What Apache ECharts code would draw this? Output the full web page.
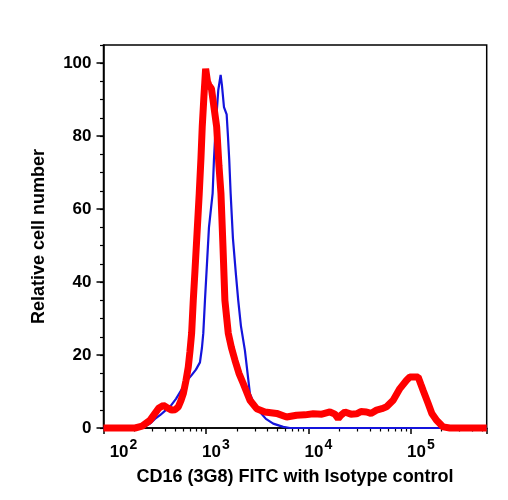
<!DOCTYPE html>
<html>
<head>
<meta charset="utf-8">
<script src="https://cdn.jsdelivr.net/npm/echarts@6/dist/echarts.min.js"></script>
<style>
  html, body { margin: 0; padding: 0; background: #fff; }
  #chart { width: 508px; height: 500px; }
</style>
</head>
<body>
<div id="chart"></div>
<script>
// x range of the log axis and y range
const xMin = 100;
const xMax = 550000;
const yMin = 0;
const yMax = 105;

// isotype control (blue, thin)
const blueX = [100, 217, 254, 284, 318, 356, 398, 445, 510, 601, 653, 725, 798, 874, 914, 942, 978, 1023, 1070, 1162, 1197, 1244, 1319, 1391, 1432, 1499, 1592, 1640, 1688, 1742, 1834, 1963, 2066, 2194, 2400, 2687, 3006, 3365, 3849, 4536, 5675, 6603, 550000];
const blueY = [0, 0, 0.5, 1.2, 2.5, 3.5, 4.7, 5.8, 8, 11.3, 13, 14.5, 16, 18, 22, 26, 35, 45, 55, 64.3, 73.5, 82.6, 92.6, 96.8, 94, 88, 86, 80, 73.5, 64.3, 52, 42, 35, 28, 21.3, 9.4, 6, 4.4, 2.5, 1.2, 0.3, 0, 0];

// CD16 (3G8) FITC (red, thick)
const redX = [100, 203, 238, 284, 318, 348, 383, 417, 463, 499, 537, 570, 601, 638, 672, 698, 725, 752, 781, 817, 860, 894, 920, 956, 993, 1035, 1070, 1132, 1197, 1272, 1339, 1401, 1465, 1531, 1651, 1774, 1919, 2100, 2311, 2687, 3124, 3765, 4898, 6126, 7670, 9250, 11140, 13550, 16220, 18140, 19540, 20760, 22720, 25990, 29540, 32530, 36950, 40730, 46260, 52120, 57950, 67190, 78130, 90830, 97800, 106990, 117800, 125200, 131900, 147600, 160300, 178200, 206700, 240000, 550000];
const redY = [0, 0, 0.5, 2.1, 4, 5.5, 6.2, 5.6, 4.9, 5.0, 5.8, 7.5, 9.4, 13, 16.7, 21, 26, 35, 43, 53, 64.3, 74, 82.6, 91, 98.5, 95, 94, 93, 88, 82.6, 72, 64.3, 50, 35, 26, 22, 18.6, 15, 12.2, 7.6, 5.3, 4.4, 4.0, 3.0, 3.5, 3.6, 3.9, 3.8, 4.4, 3.8, 2.6, 3.5, 4.4, 3.8, 3.9, 4.5, 4.4, 4.0, 4.9, 5.3, 5.8, 7.6, 10.8, 13.1, 14, 14, 14, 12, 10.3, 6.7, 4, 2.1, 0.3, 0, 0];

const xTitle = 'CD16 (3G8) FITC with Isotype control';
const yTitle = 'Relative cell number';

const font = 'Liberation Sans';

// minor ticks of the log axis, 2..9 x 10^d, in log10 space for the helper axis
const minorTicks = [];
for (let d = 2; d <= 5; d++) {
  for (let k = 2; k <= 9; k++) {
    const v = k * Math.pow(10, d);
    if (v < xMax) minorTicks.push(Math.log10(v));
  }
}

const zip = (xs, ys) => xs.map((x, i) => [x, ys[i]]);

const chart = echarts.init(document.getElementById('chart'));

const option = {
  backgroundColor: '#fff',
  animation: false,
  grid: {
    left: 103.5, right: 21.3, top: 45, bottom: 72,
    show: true, borderColor: '#000', borderWidth: 1.5,
    outerBoundsMode: 'none'
  },
  xAxis: [
    {
      type: 'log',
      logBase: 10,
      min: xMin,
      max: xMax,
      position: 'bottom',
      name: xTitle,
      nameLocation: 'middle',
      nameGap: 40,
      nameTextStyle: { fontFamily: font, fontWeight: 'bold', fontSize: 18, color: '#000' },
      axisLine: { lineStyle: { color: '#000', width: 1.5 } },
      axisTick: { length: 6, lineStyle: { color: '#000', width: 1.5 } },
      splitLine: { show: false },
      axisLabel: {
        margin: 10,
        padding: [0, 0, 0, 20],
        color: '#000',
        formatter: v => {
          const e = Math.log10(v);
          if (Math.abs(e - Math.round(e)) > 1e-6) return '';
          const n = Math.round(e);
          return (n === 2 ? '{p|}' : '') + '{b|10}{s|' + n + '}';
        },
        rich: {
          p: { width: 20 },
          b: { fontFamily: font, fontWeight: 'bold', fontSize: 17, color: '#000', verticalAlign: 'bottom' },
          s: { fontFamily: font, fontWeight: 'bold', fontSize: 14, color: '#000', verticalAlign: 'bottom', padding: [0, 0, 9, 1] }
        }
      }
    },
    {
      type: 'value',
      min: Math.log10(xMin),
      max: Math.log10(xMax),
      position: 'bottom',
      axisLine: { show: false },
      axisLabel: { show: false },
      splitLine: { show: false },
      axisTick: { length: 3.5, customValues: minorTicks, lineStyle: { color: '#000', width: 1.2 } }
    }
  ],
  yAxis: [
    {
      type: 'value',
      min: yMin,
      max: yMax,
      interval: 20,
      name: yTitle,
      nameLocation: 'middle',
      nameGap: 55,
      nameTextStyle: { fontFamily: font, fontWeight: 'bold', fontSize: 18, color: '#000' },
      axisLine: { show: true, lineStyle: { color: '#000', width: 1.5 } },
      axisTick: { show: true, length: 7, lineStyle: { color: '#000', width: 1.5 } },
      splitLine: { show: false },
      axisLabel: {
        margin: 12,
        showMaxLabel: false,
        fontFamily: font, fontWeight: 'bold', fontSize: 17, color: '#000'
      }
    },
    {
      type: 'value',
      min: yMin,
      max: yMax,
      interval: 5,
      position: 'left',
      axisLine: { show: false },
      axisLabel: { show: false },
      splitLine: { show: false },
      axisTick: { show: true, length: 3.5, lineStyle: { color: '#000', width: 1.2 } }
    }
  ],
  series: [
    {
      name: 'Isotype control',
      type: 'line',
      data: zip(blueX, blueY),
      showSymbol: false,
      clip: false,
      lineStyle: { color: '#1414dc', width: 2.2 }
    },
    {
      name: 'CD16 (3G8) FITC',
      type: 'line',
      data: zip(redX, redY),
      showSymbol: false,
      clip: false,
      lineStyle: { color: '#ff0000', width: 7 }
    }
  ]
};

chart.setOption(option);
</script>
</body>
</html>
